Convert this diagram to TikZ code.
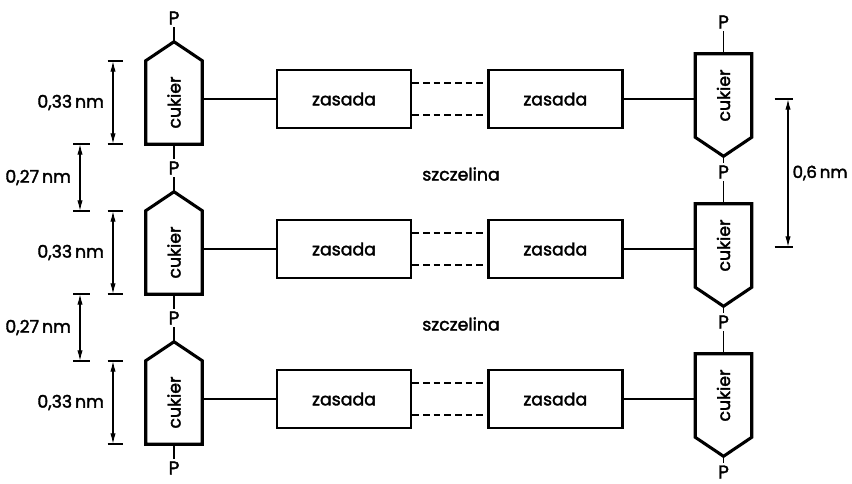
\documentclass[tikz,border=0pt]{standalone}
\usepackage{fontspec}
\setmainfont{Poppins}[FakeBold=2]
\usetikzlibrary{
    arrows.meta,
    calc,
    positioning
}
\def\px{0.75pt}
\def\rowstep{150}
\def\tip{19}
\def\hsep{56pt}
\tikzset{
    sugar/.style={
        minimum width  = 56*\px,
        minimum height = 83*\px,
        inner sep=0pt,
    },
    base/.style={
        draw,
        line width=2pt,
        minimum height = 58*\px,
        minimum width  = 134*\px,
    },
    outline/.style={line width=2.3pt, line join=miter},
    link/.style={line width=0.9pt},
    bond/.style={link, dash pattern=on 5pt off 3pt},
    phos/.style={inner sep=2pt, font=\fontsize{14}{16}\selectfont},
    dim/.style={
        line width=0.9pt,
        {Latex[length=8pt,width=4pt]}-{Latex[length=8pt,width=4pt]}
    },
    tick/.style={line width=0.9pt},
}

\begin{document}
\begin{tikzpicture}[x=\px, y=-\px, font=\fontsize{13}{15}\selectfont]
    \useasboundingbox (0,0) rectangle (852,483);

    \foreach \r in {0,1,2}{
        % sugars of both strands
        \node[sugar] (cl\r) at (174,102.5+\rowstep*\r) {\rotatebox{90}{cukier}};
        \node[sugar] (cr\r) at (723.5,95.5+\rowstep*\r) {\rotatebox{90}{cukier}};
        \coordinate (tl\r) at ($(cl\r.north)+(0,-\tip)$);
        \coordinate (tr\r) at ($(cr\r.south)+(0,\tip)$);
        \draw[outline] (cl\r.south west) -- (cl\r.north west) -- (tl\r)
            -- (cl\r.north east) -- (cl\r.south east) -- cycle;
        \draw[outline] (cr\r.north west) -- (cr\r.south west) -- (tr\r)
            -- (cr\r.south east) -- (cr\r.north east) -- cycle;

        % base pair
        \node[base] (zl\r) at (344,99+\rowstep*\r) {zasada};
        \node[base, right=\hsep of zl\r] (zr\r) {zasada};
        \draw[link] (cl\r.east |- zl\r.west) -- (zl\r.west);
        \draw[link] (zr\r.east) -- (zr\r.east -| cr\r.west);
        \draw[bond] ([yshift=12pt]zl\r.east) -- ([yshift=12pt]zr\r.west);
        \draw[bond] ([yshift=-12pt]zl\r.east) -- ([yshift=-12pt]zr\r.west);

        % sugar height
        \coordinate (sa\r) at (113,61+\rowstep*\r);
        \coordinate (sb\r) at (113,144+\rowstep*\r);
        \draw[tick] ([xshift=-4pt]sa\r) -- ([xshift=7.5pt]sa\r);
        \draw[tick] ([xshift=-4pt]sb\r) -- ([xshift=7.5pt]sb\r);
        \draw[dim] (sa\r) -- node[left=3pt] (ls\r) {0,33\,nm} (sb\r);
    }

    % phosphates
    \foreach \k in {0,...,3}{
        \node[phos] (pl\k) at (174,18+\rowstep*\k) {P};
        \node[phos] (pr\k) at (723.5,22+\rowstep*\k) {P};
    }
    \foreach \r [count=\n] in {0,1,2}{
        \draw[link] (pl\r) -- (tl\r);
        \draw[link] (cl\r.south) -- (pl\n);
        \draw[link] (pr\r) -- (cr\r.north);
        \draw[link] (tr\r) -- (pr\n);
    }

    % gaps between the pairs
    \foreach \r in {0,1}{
        \node (gap\r) at (461,174+\rowstep*\r) {szczelina};
        \coordinate (ga\r) at (80,144+\rowstep*\r);
        \coordinate (gb\r) at (80,211+\rowstep*\r);
        \draw[tick] ([xshift=-5pt]ga\r) -- ([xshift=7.5pt]ga\r);
        \draw[tick] ([xshift=-5pt]gb\r) -- ([xshift=7.5pt]gb\r);
        \draw[dim] (ga\r) -- node[left=3pt] (lg\r) {0,27\,nm} (gb\r);
    }

    % full step
    \coordinate (ha) at (788,99);
    \coordinate (hb) at (788,247);
    \draw[tick] ([xshift=-10pt]ha) -- ([xshift=4pt]ha);
    \draw[tick] ([xshift=-10pt]hb) -- ([xshift=4pt]hb);
    \draw[dim] (ha) -- node[right=1pt, inner sep=2pt, font=\fontsize{12.5}{15}\selectfont] (lh) {0,6\,nm} (hb);
\end{tikzpicture}
\end{document}
